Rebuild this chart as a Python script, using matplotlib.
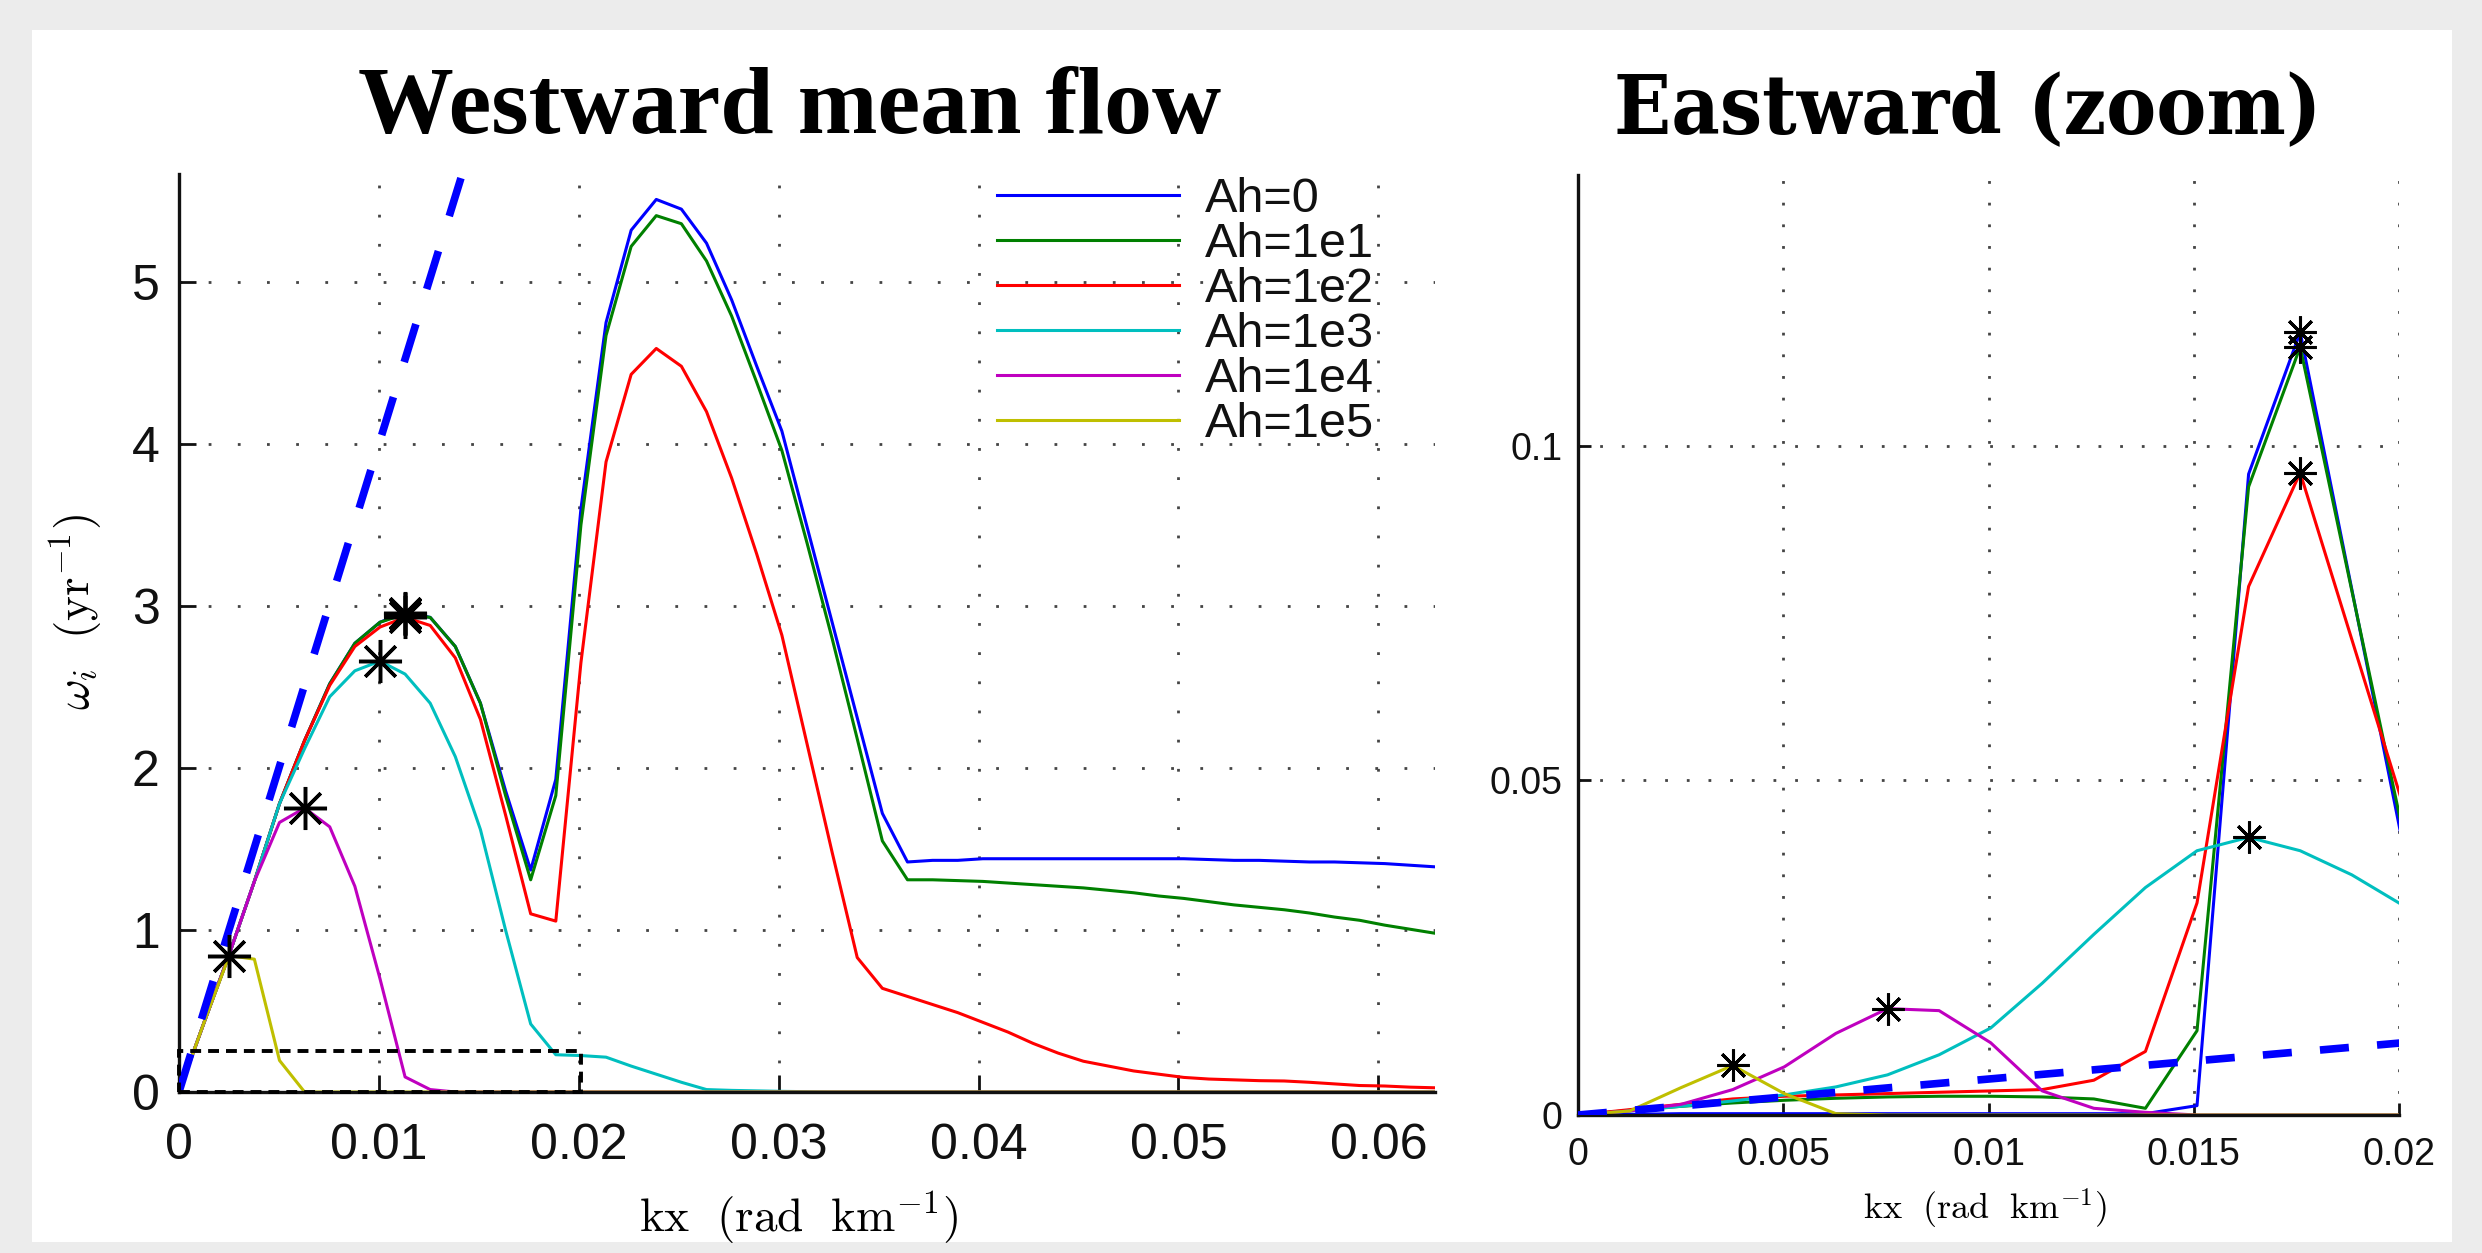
import numpy as np
import matplotlib
matplotlib.use('Agg')
import matplotlib.pyplot as plt
from matplotlib.patches import Rectangle

# ---------------- data ----------------
kx = [0.0, 0.0012566, 0.0025133, 0.0037699, 0.0050265, 0.0062832, 0.0075398,
      0.0087965, 0.0100531, 0.0113097, 0.0125664, 0.0138230, 0.0150796,
      0.0163363, 0.0175929, 0.0188496, 0.0201062, 0.0213628, 0.0226195,
      0.0238761, 0.0251327, 0.0263894, 0.0276460, 0.0289027, 0.0301593,
      0.0314159, 0.0326726, 0.0339292, 0.0351858, 0.0364425, 0.0376991,
      0.0389557, 0.0402124, 0.0414690, 0.0427257, 0.0439823, 0.0452389,
      0.0464956, 0.0477522, 0.0490088, 0.0502655, 0.0515221, 0.0527788,
      0.0540354, 0.0552920, 0.0565487, 0.0578053, 0.0590619, 0.0603186,
      0.0615752, 0.0628319]

labels = ["Ah=0", "Ah=1e1", "Ah=1e2", "Ah=1e3", "Ah=1e4", "Ah=1e5"]

# Westward mean flow, growth rate (yr^-1)
west_ah0 = [0, 0.43, 0.85, 1.30, 1.78, 2.17, 2.52, 2.77, 2.90, 2.96, 2.93,
            2.75, 2.40, 1.86, 1.37, 1.93, 3.60, 4.75, 5.32, 5.51, 5.45,
            5.24, 4.89, 4.48, 4.08, 3.49, 2.90, 2.31, 1.72, 1.42, 1.43,
            1.43, 1.44, 1.44, 1.44, 1.44, 1.44, 1.44, 1.44, 1.44, 1.44,
            1.435, 1.43, 1.43, 1.425, 1.42, 1.42, 1.415, 1.41, 1.40, 1.39]
west_ah1e1 = [0, 0.43, 0.85, 1.30, 1.78, 2.17, 2.52, 2.77, 2.90, 2.95, 2.93,
              2.75, 2.40, 1.83, 1.31, 1.83, 3.50, 4.67, 5.22, 5.41, 5.36,
              5.13, 4.79, 4.38, 3.96, 3.39, 2.80, 2.18, 1.55, 1.31, 1.31,
              1.305, 1.30, 1.29, 1.28, 1.27, 1.26, 1.245, 1.23, 1.21, 1.195,
              1.175, 1.155, 1.14, 1.125, 1.105, 1.08, 1.06, 1.03, 1.005, 0.98]
west_ah1e2 = [0, 0.43, 0.85, 1.30, 1.78, 2.17, 2.51, 2.75, 2.87, 2.93, 2.88,
              2.68, 2.30, 1.71, 1.10, 1.055, 2.65, 3.89, 4.43, 4.59, 4.48,
              4.20, 3.79, 3.32, 2.82, 2.15, 1.48, 0.83, 0.64, 0.59, 0.54,
              0.49, 0.43, 0.37, 0.30, 0.24, 0.19, 0.16, 0.13, 0.11, 0.09,
              0.08, 0.075, 0.07, 0.068, 0.06, 0.05, 0.04, 0.037, 0.03, 0.026]
west_ah1e3 = [0, 0.43, 0.85, 1.30, 1.78, 2.12, 2.44, 2.60, 2.66, 2.58, 2.40,
              2.07, 1.62, 1.00, 0.42, 0.23, 0.225, 0.215, 0.16, 0.11, 0.06,
              0.015, 0.01, 0.007, 0.004, 0.002, 0, 0, 0, 0, 0,
              0, 0, 0, 0, 0, 0, 0, 0, 0, 0,
              0, 0, 0, 0, 0, 0, 0, 0, 0, 0]
west_ah1e4 = [0, 0.43, 0.85, 1.30, 1.664, 1.753, 1.637, 1.27, 0.70, 0.093, 0.015,
              0, 0, 0, 0, 0, 0, 0, 0, 0, 0,
              0, 0, 0, 0, 0, 0, 0, 0, 0, 0,
              0, 0, 0, 0, 0, 0, 0, 0, 0, 0,
              0, 0, 0, 0, 0, 0, 0, 0, 0, 0]
west_ah1e5 = [0, 0.43, 0.842, 0.82, 0.195, 0, 0, 0, 0, 0, 0,
              0, 0, 0, 0, 0, 0, 0, 0, 0, 0,
              0, 0, 0, 0, 0, 0, 0, 0, 0, 0,
              0, 0, 0, 0, 0, 0, 0, 0, 0, 0,
              0, 0, 0, 0, 0, 0, 0, 0, 0, 0]

# Eastward mean flow (zoom), first 17 wavenumbers
kx_east = kx[:17]
east_ah0 = [0, 0.0001, 0.0002, 0.0002, 0.0002, 0.0002, 0.0002, 0.0002, 0.0002,
            0.0002, 0.0002, 0.0002, 0.0014, 0.0958, 0.1170, 0.0786, 0.0401]
east_ah1e1 = [0, 0.0007, 0.0013, 0.0018, 0.0022, 0.0025, 0.0027, 0.0028, 0.0028,
              0.0027, 0.0024, 0.0010, 0.0126, 0.0939, 0.1148, 0.0784, 0.0420]
east_ah1e2 = [0, 0.0008, 0.0016, 0.0024, 0.0028, 0.0030, 0.0032, 0.0034, 0.0036,
              0.0038, 0.0052, 0.0095, 0.0317, 0.0790, 0.0960, 0.0711, 0.0462]
east_ah1e3 = [0, 0.0006, 0.0013, 0.0021, 0.0030, 0.0042, 0.0060, 0.0090, 0.0130,
              0.0197, 0.0270, 0.0340, 0.0395, 0.0415, 0.0395, 0.0359, 0.0313]
east_ah1e4 = [0, 0.0006, 0.0016, 0.0038, 0.0072, 0.0122, 0.0159, 0.0156, 0.0108,
              0.0036, 0.0010, 0.0004, 0, 0, 0, 0, 0]
east_ah1e5 = [0, 0.0006, 0.0041, 0.0074, 0.0032, 0.0002, 0, 0, 0,
              0, 0, 0, 0, 0, 0, 0, 0]

# reference (dashed) lines
west_ref_kx = [0, 0.02]
west_ref_w = [0, 8.0]
east_ref_kx = [0, 0.0201]
east_ref_w = [0, 0.0108]

# fastest-growing mode markers are searched for kx below these limits
west_star_kmax = 0.015
east_star_kmax = 0.02

# zoom box drawn on the westward panel
zoom_box_kx = [0, 0.0201]
zoom_box_w = [0.003, 0.253]

west_xticks = [0, 0.01, 0.02, 0.03, 0.04, 0.05, 0.06]
west_xticklabels = ["0", "0.01", "0.02", "0.03", "0.04", "0.05", "0.06"]
west_yticks = [0, 1, 2, 3, 4, 5]
west_yticklabels = ["0", "1", "2", "3", "4", "5"]
east_xticks = [0, 0.005, 0.01, 0.015, 0.02]
east_xticklabels = ["0", "0.005", "0.01", "0.015", "0.02"]
east_yticks = [0, 0.05, 0.1]
east_yticklabels = ["0", "0.05", "0.1"]

colors = [(0, 0, 1), (0, 0.5, 0), (1, 0, 0), (0, 0.75, 0.75),
          (0.75, 0, 0.75), (0.75, 0.75, 0)]

# ---------------- figure ----------------
plt.rcParams['mathtext.fontset'] = 'cm'
plt.rcParams['font.family'] = ['Liberation Sans', 'DejaVu Sans']

W, H = 2482, 1253
fig = plt.figure(figsize=(W / 100, H / 100), dpi=100, facecolor='#ececec')
fig.patches.append(Rectangle((32 / W, 1 - 1242 / H), 2420 / W, 1212 / H,
                             transform=fig.transFigure, facecolor='white',
                             edgecolor='none', zorder=-10))

axL = fig.add_axes([179 / W, 1 - 1092 / H, 1256 / W, 918 / H])
axR = fig.add_axes([1578 / W, 1 - 1115 / H, 821 / W, 940 / H])
for ax in (axL, axR):
    ax.set_zorder(1)
    ax.patch.set_alpha(0)


def style_axes(ax, tick_fs, tick_len, padx, pady, dash):
    for s in ['top', 'right']:
        ax.spines[s].set_visible(False)
    for s in ['left', 'bottom']:
        ax.spines[s].set_linewidth(2.4)
        ax.spines[s].set_color('#111111')
    ax.tick_params(direction='in', length=tick_len, width=2.0, colors='#111111',
                   labelsize=tick_fs)
    ax.tick_params(axis='x', pad=padx)
    ax.tick_params(axis='y', pad=pady)
    ax.grid(True, color='#444444', linewidth=2.0, linestyle=(0, dash))
    ax.set_axisbelow(True)


# ---- westward ----
west = [west_ah0, west_ah1e1, west_ah1e2, west_ah1e3, west_ah1e4, west_ah1e5]
kxa = np.array(kx)
for vals, c, lab in zip(west, colors, labels):
    axL.plot(kx, vals, color=c, lw=2.2, label=lab, zorder=2)
axL.plot(west_ref_kx, west_ref_w, color=(0, 0, 1), lw=5.5,
         linestyle=(0, (5.2, 4.8)), zorder=4)
for vals in west:
    v = np.array(vals)
    m = kxa <= west_star_kmax
    i = int(np.argmax(np.where(m, v, -np.inf)))
    axL.plot(kx[i], vals[i], marker=(8, 2, 0), markersize=31, mew=2.5,
             color='k', zorder=6, linestyle='none')
axL.add_patch(Rectangle((zoom_box_kx[0], zoom_box_w[0]),
                        zoom_box_kx[1] - zoom_box_kx[0],
                        zoom_box_w[1] - zoom_box_w[0],
                        fill=False, edgecolor='k', lw=2.8,
                        linestyle=(0, (2.8, 1.8)), zorder=5, clip_on=False))
axL.set_xlim(0, kx[-1])
axL.set_ylim(0, 5.667)
axL.set_xticks(west_xticks)
axL.set_xticklabels(west_xticklabels)
axL.set_yticks(west_yticks)
axL.set_yticklabels(west_yticklabels)
style_axes(axL, 36, 12, 22, 14, (1, 9.5))
axL.set_xlabel(r'$\mathrm{kx}\ \ (\mathrm{rad}\ \ \mathrm{km}^{-1})$', fontsize=34)
axL.xaxis.set_label_coords(0.4936, -0.1068)
axL.set_ylabel(r'$\omega_i\ \ (\mathrm{yr}^{-1})$', fontsize=34)
axL.yaxis.set_label_coords(-0.0589, 0.5229)

leg = axL.legend(loc='upper left', bbox_to_anchor=(997 / W, 1 - 177 / H),
                 bbox_transform=fig.transFigure, frameon=False, fontsize=35,
                 handlelength=3.74, handletextpad=0.53, labelspacing=0.0,
                 borderpad=0, borderaxespad=0)
for t in leg.get_texts():
    t.set_color('#111111')

# ---- eastward ----
east = [east_ah0, east_ah1e1, east_ah1e2, east_ah1e3, east_ah1e4, east_ah1e5]
kxe = np.array(kx_east)
for vals, c in zip(east, colors):
    axR.plot(kx_east, vals, color=c, lw=2.2, zorder=2)
axR.plot(east_ref_kx, east_ref_w, color=(0, 0, 1), lw=5.5,
         linestyle=(0, (3.8, 3.7)), zorder=4)
for vals in east:
    v = np.array(vals)
    m = kxe <= east_star_kmax
    i = int(np.argmax(np.where(m, v, -np.inf)))
    axR.plot(kx_east[i], vals[i], marker=(8, 2, 0), markersize=23, mew=2.2,
             color='k', zorder=6, linestyle='none')
axR.set_xlim(0, 0.02)
axR.set_ylim(0, 0.1405)
axR.set_xticks(east_xticks)
axR.set_xticklabels(east_xticklabels)
axR.set_yticks(east_yticks)
axR.set_yticklabels(east_yticklabels)
style_axes(axR, 27, 9, 16, 11, (1, 6.8))
axR.set_xlabel(r'$\mathrm{kx}\ \ (\mathrm{rad}\ \ \mathrm{km}^{-1})$', fontsize=26)
axR.xaxis.set_label_coords(0.4957, -0.0766)

# ---- titles ----
fig.text(790 / W, 1 - 133 / H, 'Westward mean flow', ha='center', va='baseline',
         fontsize=69, fontweight='bold', family=['Liberation Serif', 'DejaVu Serif'])
fig.text(1968 / W, 1 - 133 / H, 'Eastward (zoom)', ha='center', va='baseline',
         fontsize=60, fontweight='bold', fontstretch='condensed',
         family=['DejaVu Serif'])

fig.savefig('out.png', dpi=100, facecolor=fig.get_facecolor())
